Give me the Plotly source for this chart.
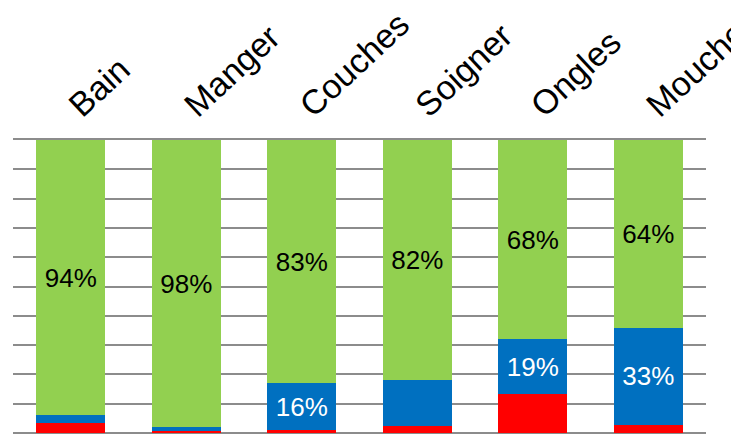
import plotly.graph_objects as go

# categories (top axis) and stacked shares in percent, bottom to top
categories = ['Bain', 'Manger', 'Couches', 'Soigner', 'Ongles', 'Mouches']
red_values = [3.5, 0.7, 1.0, 2.3, 13.3, 2.6]
blue_values = [2.5, 1.3, 16.0, 15.7, 18.7, 33.4]
green_values = [94.0, 98.0, 83.0, 82.0, 68.0, 64.0]

# labels printed inside the segments (blank = no label)
blue_labels = ['', '', '16%', '', '19%', '33%']
green_labels = ['94%', '98%', '83%', '82%', '68%', '64%']

RED = '#FF0000'
BLUE = '#0070C0'
GREEN = '#92D050'
GRID = '#8c8c8c'
FONT = 'Liberation Sans, Arial, sans-serif'

fig = go.Figure()

fig.add_trace(go.Bar(x=categories, y=red_values, marker_color=RED, name='red'))
fig.add_trace(go.Bar(
    x=categories, y=blue_values, marker_color=BLUE, name='blue',
    text=blue_labels, textposition='inside', insidetextanchor='middle',
    textfont=dict(color='white', size=26, family=FONT),
))
fig.add_trace(go.Bar(
    x=categories, y=green_values, marker_color=GREEN, name='green',
    text=green_labels, textposition='inside', insidetextanchor='middle',
    textfont=dict(color='black', size=26, family=FONT),
))

fig.update_traces(marker_line_width=0)

# the page body has an 8px default margin, so the margins are offset by it
fig.update_layout(
    width=739, height=434,
    barmode='stack', bargap=0.4,
    showlegend=False,
    paper_bgcolor='white', plot_bgcolor='white',
    margin=dict(l=5, r=41, t=132, b=9),
    font=dict(family=FONT, color='black'),
)

# top axis line stands in for the 100% gridline
fig.update_xaxes(
    side='top', tickangle=-43, automargin=False,
    tickfont=dict(size=34, family=FONT, color='black'),
    showgrid=False, ticks='', ticklabelstandoff=1,
    showline=True, linecolor=GRID, linewidth=2,
)
fig.update_yaxes(
    range=[0, 100], dtick=10, automargin=False,
    showticklabels=False, ticks='',
    showgrid=True, gridcolor=GRID, gridwidth=2,
    zeroline=True, zerolinecolor=GRID, zerolinewidth=2,
    showline=False,
)

fig.write_html("out.html")
